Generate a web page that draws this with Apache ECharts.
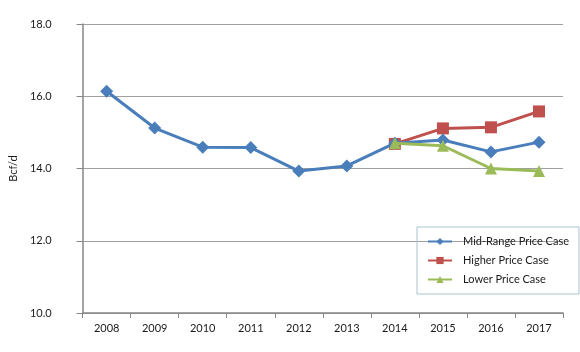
<!DOCTYPE html>
<html>
<head>
<meta charset="utf-8">
<script src="https://cdn.jsdelivr.net/npm/echarts@6/dist/echarts.min.js"></script>
<style>
  html, body { margin: 0; padding: 0; background: #fff; }
  #main { width: 580px; height: 352px; }
</style>
</head>
<body>
<div id="main"></div>
<script>
// years on the x axis
var years = ['2008', '2009', '2010', '2011', '2012', '2013', '2014', '2015', '2016', '2017'];
// Bcf/d
var midRange = [16.14, 15.12, 14.59, 14.58, 13.93, 14.07, 14.70, 14.79, 14.46, 14.73];
var higher = [null, null, null, null, null, null, 14.68, 15.11, 15.14, 15.58];
var lower = [null, null, null, null, null, null, 14.70, 14.63, 14.00, 13.93];

var font = 'Lato, "DejaVu Sans", sans-serif';
var myChart = echarts.init(document.getElementById('main'));

var option = {
  animation: false,
  textStyle: { fontFamily: font },
  grid: { left: 79, right: 17, top: 24, bottom: 39 },
  legend: {
    orient: 'vertical',
    left: 417,
    top: 227,
    width: 158,
    height: 72,
    padding: [9, 10, 9, 10],
    itemGap: 8,
    itemWidth: 24,
    itemHeight: 9,
    borderColor: '#a9c2cc',
    borderWidth: 1,
    textStyle: { fontFamily: font, fontSize: 11, color: '#1a1a1a', padding: [0, 0, 0, 6] },
    data: ['Mid-Range Price Case', 'Higher Price Case', 'Lower Price Case']
  },
  xAxis: {
    type: 'category',
    data: years,
    boundaryGap: true,
    axisLine: { lineStyle: { color: '#868686', width: 1.5 } },
    axisTick: { show: true, length: 5, lineStyle: { color: '#868686' } },
    axisLabel: { color: '#1a1a1a', fontSize: 11, margin: 10 }
  },
  yAxis: {
    type: 'value',
    min: 10,
    max: 18,
    interval: 2,
    name: 'Bcf/d',
    nameLocation: 'middle',
    nameRotate: 90,
    nameGap: 63,
    nameTextStyle: { color: '#1a1a1a', fontSize: 11 },
    axisLine: { show: true, lineStyle: { color: '#868686', width: 1.5 } },
    axisTick: { show: true, length: 6, lineStyle: { color: '#868686' } },
    axisLabel: {
      color: '#1a1a1a', fontSize: 11, margin: 31,
      formatter: function (v) { return v.toFixed(1); }
    },
    splitLine: { lineStyle: { color: '#a0a0a0', width: 1 } }
  },
  series: [
    {
      name: 'Mid-Range Price Case',
      type: 'line',
      data: midRange,
      symbol: 'diamond',
      symbolSize: 13,
      itemStyle: { color: '#4a7ebb' },
      lineStyle: { color: '#4a7ebb', width: 3 },
      z: 3
    },
    {
      name: 'Higher Price Case',
      type: 'line',
      data: higher,
      symbol: 'rect',
      symbolSize: 12,
      itemStyle: { color: '#c0504d' },
      lineStyle: { color: '#c0504d', width: 3 },
      z: 2
    },
    {
      name: 'Lower Price Case',
      type: 'line',
      data: lower,
      symbol: 'triangle',
      symbolSize: 12,
      itemStyle: { color: '#9bbb59' },
      lineStyle: { color: '#9bbb59', width: 3 },
      z: 4
    }
  ]
};

myChart.setOption(option);
</script>
</body>
</html>
